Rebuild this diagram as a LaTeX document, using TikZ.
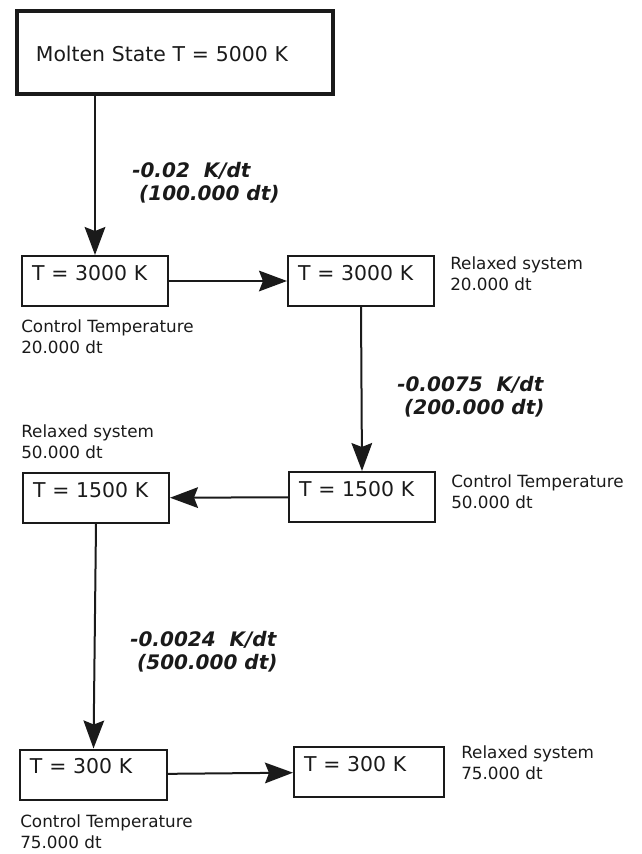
\documentclass[tikz,border=0pt]{standalone}
\usepackage{fontspec}
\setmainfont{DejaVu Sans}
\usetikzlibrary{arrows.meta}
\definecolor{ink}{HTML}{1A1A1A}

\begin{document}
\begin{tikzpicture}[x=0.75pt, y=-0.75pt,
    tempbox/.style={draw=ink, line width=1.5pt, text=ink, font=\fontsize{15.3}{18}\selectfont,
        inner xsep=7.5pt, inner ysep=0pt, text width=#1, text height=18pt, text depth=19.5pt, align=left},
    note/.style={anchor=base west, inner sep=0pt, align=left, text=ink, font=\fontsize{12.6}{15.75}\selectfont},
    rate/.style={anchor=base west, inner sep=0pt, align=left, text=ink, font=\fontsize{15}{17.25}\selectfont\bfseries\itshape},
    flow/.style={draw=ink, line width=1.5pt, -{Stealth[length=21pt, width=15.5pt, inset=3pt]}}]
    \useasboundingbox (0,0) rectangle (642,854);
    % Блоки
    \node[tempbox=208.5pt, line width=3pt, inner xsep=14.25pt, text height=38.25pt, text depth=24.4pt] (melt) at (174.9,52.5) {Molten State T = 5000 K};
    \node[tempbox=94.5pt] (ctrlA) at (95,281) {T = 3000 K};
    \node[tempbox=94.5pt] (relxA) at (361,281) {T = 3000 K};
    \node[tempbox=94.5pt] (relxB) at (96,498) {T = 1500 K};
    \node[tempbox=94.5pt] (ctrlB) at (362,497) {T = 1500 K};
    \node[tempbox=95.25pt] (ctrlC) at (93.5,774.5) {T = 300 K};
    \node[tempbox=97.5pt] (relxC) at (369,772) {T = 300 K};
    % Стрелки
    \draw[flow] (melt.south -| ctrlA.north) -- (ctrlA.north);
    \draw[flow] (ctrlA) -- (relxA);
    \draw[flow] (relxA.south) -- (ctrlB.north);
    \draw[flow] (ctrlB) -- (relxB);
    \draw[flow] (relxB.south) -- (ctrlC.north);
    \draw[flow] (ctrlC) -- (relxC);
    % Скорости охлаждения
    \node[rate] (rateA) at (132,200) {-0.02\ \ K/dt\\\ (100.000 dt)};
    \node[rate] (rateB) at (397,414) {-0.0075\ \ K/dt\\\ (200.000 dt)};
    \node[rate] (rateC) at (130,669) {-0.0024\ \ K/dt\\\ (500.000 dt)};
    % Подписи
    \node[note] (noteA) at (21,353) {Control Temperature\\20.000 dt};
    \node[note] (noteB) at (450,290) {Relaxed system\\20.000 dt};
    \node[note] (noteC) at (21,458) {Relaxed system\\50.000 dt};
    \node[note] (noteD) at (451,508) {Control Temperature\\50.000 dt};
    \node[note] (noteE) at (20,848) {Control Temperature\\75.000 dt};
    \node[note] (noteF) at (461,779) {Relaxed system\\75.000 dt};
\end{tikzpicture}
\end{document}
